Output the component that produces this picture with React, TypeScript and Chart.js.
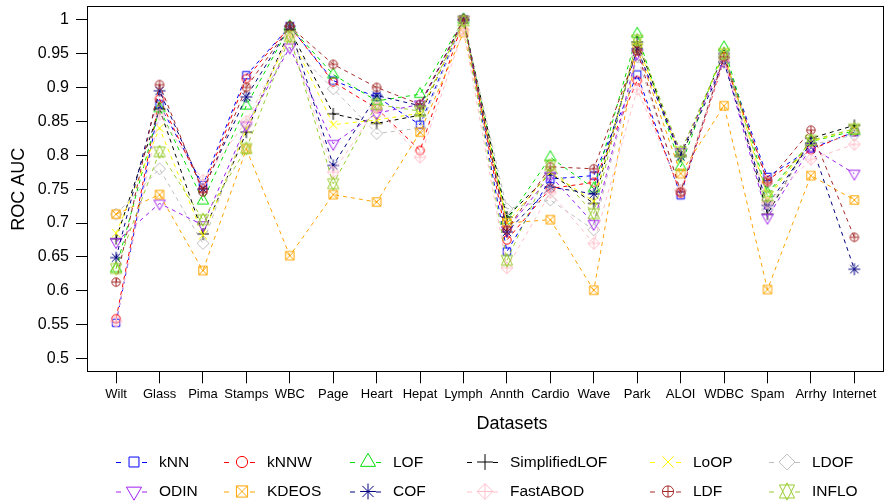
import React, { useEffect, useRef } from 'react';
import { Chart, registerables } from 'chart.js';

Chart.register(...registerables);

// ---------------- data ----------------
const categories = ['Wilt', 'Glass', 'Pima', 'Stamps', 'WBC', 'Page', 'Heart', 'Hepat', 'Lymph', 'Annth', 'Cardio', 'Wave', 'Park', 'ALOI', 'WDBC', 'Spam', 'Arrhy', 'Internet'];

const kNN = [0.553, 0.875, 0.756, 0.918, 0.990, 0.910, 0.886, 0.845, 1.000, 0.658, 0.765, 0.770, 0.919, 0.741, 0.947, 0.768, 0.810, 0.834];
const kNNW = [0.559, 0.883, 0.750, 0.913, 0.990, 0.908, 0.869, 0.807, 1.000, 0.675, 0.751, 0.760, 0.910, 0.744, 0.940, 0.763, 0.808, 0.835];
const LOF = [0.633, 0.869, 0.733, 0.873, 0.990, 0.919, 0.880, 0.890, 1.000, 0.704, 0.797, 0.751, 0.979, 0.783, 0.959, 0.744, 0.820, 0.836];
const SimplifiedLOF = [0.677, 0.868, 0.684, 0.834, 0.985, 0.861, 0.847, 0.859, 1.000, 0.709, 0.773, 0.729, 0.967, 0.800, 0.950, 0.713, 0.825, 0.844];
const LoOP = [0.685, 0.840, 0.682, 0.838, 0.978, 0.845, 0.852, 0.862, 0.998, 0.700, 0.775, 0.732, 0.965, 0.795, 0.952, 0.736, 0.820, 0.839];
const LDOF = [0.713, 0.780, 0.670, 0.845, 0.962, 0.898, 0.832, 0.840, 0.998, 0.721, 0.734, 0.690, 0.945, 0.748, 0.948, 0.720, 0.815, 0.830];
const ODIN = [0.672, 0.729, 0.697, 0.844, 0.959, 0.817, 0.862, 0.875, 1.000, 0.690, 0.770, 0.699, 0.950, 0.805, 0.940, 0.708, 0.812, 0.773];
const KDEOS = [0.713, 0.742, 0.630, 0.809, 0.652, 0.742, 0.731, 0.834, 0.981, 0.700, 0.705, 0.601, 0.958, 0.773, 0.873, 0.602, 0.770, 0.734];
const COF = [0.649, 0.895, 0.750, 0.886, 0.990, 0.785, 0.888, 0.873, 1.000, 0.687, 0.753, 0.743, 0.957, 0.798, 0.937, 0.726, 0.818, 0.632];
const FastABOD = [0.555, 0.860, 0.763, 0.850, 0.975, 0.775, 0.870, 0.797, 0.985, 0.634, 0.745, 0.670, 0.897, 0.748, 0.940, 0.730, 0.794, 0.816];
const LDF = [0.613, 0.904, 0.746, 0.900, 0.990, 0.934, 0.900, 0.875, 1.000, 0.690, 0.783, 0.780, 0.954, 0.746, 0.945, 0.760, 0.837, 0.679];
const INFLO = [0.633, 0.805, 0.705, 0.810, 0.975, 0.758, 0.875, 0.865, 0.998, 0.645, 0.785, 0.714, 0.970, 0.805, 0.950, 0.740, 0.822, 0.839];

const seriesNames = ['kNN', 'kNNW', 'LOF', 'SimplifiedLOF', 'LoOP', 'LDOF', 'ODIN', 'KDEOS', 'COF', 'FastABOD', 'LDF', 'INFLO'];
const seriesValues = [kNN, kNNW, LOF, SimplifiedLOF, LoOP, LDOF, ODIN, KDEOS, COF, FastABOD, LDF, INFLO];

const yTickValues = [0.5, 0.55, 0.6, 0.65, 0.7, 0.75, 0.8, 0.85, 0.9, 0.95, 1];
const yTickLabels = ['0.5', '0.55', '0.6', '0.65', '0.7', '0.75', '0.8', '0.85', '0.9', '0.95', '1'];

// ---------------- styles ----------------
const seriesColors = ['#0000FF', '#FF0000', '#00E000', '#000000', '#FFFF00', '#BEBEBE', '#A020F0', '#FFA500', '#000080', '#FFC0CB', '#A52A2A', '#9ACD32'];
const seriesPch = [0, 1, 2, 3, 4, 5, 6, 7, 8, 9, 10, 11];

const FONT = '"Liberation Sans", Arial, Helvetica, sans-serif';
const W = 889;
const H = 502;
const PLOT_LEFT = 87;
const PLOT_TOP = 5.4;
const PLOT_BOTTOM = 372.3;
const PLOT_R = 4.2;
const LEGEND_R = 5.6;
const legendMarkerX = [134, 242, 368, 485, 668, 787];
const legendRowY = [462, 491.5];

const TRC0 = Math.sqrt((4 * Math.PI) / (3 * Math.sqrt(3)));
const TRC1 = (TRC0 * Math.sqrt(3)) / 2;
const TRC2 = TRC0 / 2;
const SQRC = 0.88622692545;

function drawPch(ctx: CanvasRenderingContext2D, pch: number, x: number, y: number, R: number) {
  ctx.beginPath();
  const line = (x1: number, y1: number, x2: number, y2: number) => {
    ctx.moveTo(x1, y1);
    ctx.lineTo(x2, y2);
  };
  switch (pch) {
    case 0: {
      const s = R * SQRC;
      ctx.rect(x - s, y - s, 2 * s, 2 * s);
      break;
    }
    case 1:
      ctx.arc(x, y, R, 0, Math.PI * 2);
      break;
    case 2: {
      const r = TRC0 * R, yc = TRC2 * R, xc = TRC1 * R;
      ctx.moveTo(x, y - r);
      ctx.lineTo(x + xc, y + yc);
      ctx.lineTo(x - xc, y + yc);
      ctx.closePath();
      break;
    }
    case 3: {
      const xc = Math.SQRT2 * R;
      line(x - xc, y, x + xc, y);
      line(x, y - xc, x, y + xc);
      break;
    }
    case 4: {
      const xc = R;
      line(x - xc, y - xc, x + xc, y + xc);
      line(x - xc, y + xc, x + xc, y - xc);
      break;
    }
    case 5: {
      const xc = Math.SQRT2 * R;
      ctx.moveTo(x - xc, y);
      ctx.lineTo(x, y - xc);
      ctx.lineTo(x + xc, y);
      ctx.lineTo(x, y + xc);
      ctx.closePath();
      break;
    }
    case 6: {
      const r = TRC0 * R, yc = TRC2 * R, xc = TRC1 * R;
      ctx.moveTo(x, y + r);
      ctx.lineTo(x + xc, y - yc);
      ctx.lineTo(x - xc, y - yc);
      ctx.closePath();
      break;
    }
    case 7: {
      const xc = R;
      ctx.rect(x - xc, y - xc, 2 * xc, 2 * xc);
      line(x - xc, y - xc, x + xc, y + xc);
      line(x - xc, y + xc, x + xc, y - xc);
      break;
    }
    case 8: {
      const xc = R;
      line(x - xc, y - xc, x + xc, y + xc);
      line(x - xc, y + xc, x + xc, y - xc);
      const xc2 = Math.SQRT2 * R;
      line(x - xc2, y, x + xc2, y);
      line(x, y - xc2, x, y + xc2);
      break;
    }
    case 9: {
      const xc = Math.SQRT2 * R;
      line(x - xc, y, x + xc, y);
      line(x, y - xc, x, y + xc);
      ctx.moveTo(x - xc, y);
      ctx.lineTo(x, y - xc);
      ctx.lineTo(x + xc, y);
      ctx.lineTo(x, y + xc);
      ctx.closePath();
      break;
    }
    case 10: {
      ctx.arc(x, y, R, 0, Math.PI * 2);
      ctx.moveTo(x - R, y);
      ctx.lineTo(x + R, y);
      ctx.moveTo(x, y - R);
      ctx.lineTo(x, y + R);
      break;
    }
    case 11: {
      const r = TRC0 * R;
      const yc = 0.5 * (TRC2 * R + r);
      const xc = TRC1 * R;
      ctx.moveTo(x, y - r);
      ctx.lineTo(x + xc, y + yc);
      ctx.lineTo(x - xc, y + yc);
      ctx.closePath();
      ctx.moveTo(x, y + r);
      ctx.lineTo(x + xc, y - yc);
      ctx.lineTo(x - xc, y - yc);
      ctx.closePath();
      break;
    }
  }
  ctx.stroke();
}

function makeMarker(pch: number, color: string, R: number): HTMLCanvasElement {
  const half = Math.ceil(1.7 * R + 2);
  const c = document.createElement('canvas');
  c.width = half * 2;
  c.height = half * 2;
  const ctx = c.getContext('2d')!;
  ctx.strokeStyle = color;
  ctx.lineWidth = 1;
  drawPch(ctx, pch, half, half, R);
  return c;
}

const decorPlugin = {
  id: 'decor',
  afterDraw(chart: any) {
    const { ctx, chartArea: a } = chart;
    ctx.save();
    ctx.setLineDash([]);
    ctx.lineDashOffset = 0;
    ctx.strokeStyle = '#000';
    ctx.lineWidth = 1;
    ctx.strokeRect(Math.round(a.left) + 0.5, Math.round(a.top) + 0.5, Math.round(a.right - a.left), Math.round(a.bottom - a.top) - 1);

    ctx.fillStyle = '#000';
    ctx.font = `18px ${FONT}`;
    ctx.textAlign = 'center';
    ctx.textBaseline = 'middle';
    ctx.fillText('Datasets', 512, 424);
    ctx.save();
    ctx.translate(19, (a.top + a.bottom) / 2);
    ctx.rotate(-Math.PI / 2);
    ctx.fillText('ROC AUC', 0, 0);
    ctx.restore();

    // legend
    chart.data.datasets.forEach((ds: any, i: number) => {
      const col = i % 6;
      const row = Math.floor(i / 6);
      const mx = legendMarkerX[col];
      const my = legendRowY[row];
      ctx.strokeStyle = ds.borderColor;
      ctx.lineWidth = 1;
      ctx.setLineDash([]);
      ctx.beginPath();
      ctx.moveTo(mx - 18, my + 0.5);
      ctx.lineTo(mx - 13, my + 0.5);
      ctx.moveTo(mx + 8, my + 0.5);
      ctx.lineTo(mx + 13, my + 0.5);
      ctx.stroke();
      drawPch(ctx, seriesPch[i], mx, my, LEGEND_R);
      ctx.fillStyle = '#000';
      ctx.font = `15.5px ${FONT}`;
      ctx.textAlign = 'left';
      ctx.textBaseline = 'middle';
      ctx.fillText(ds.label, mx + 25, my + 0.5);
    });
    ctx.restore();
  },
};

export default function App() {
  const canvasRef = useRef<HTMLCanvasElement | null>(null);

  useEffect(() => {
    if (!canvasRef.current) return;
    Chart.defaults.font.family = FONT;
    const datasets = seriesNames.map((name, i) => ({
      label: name,
      data: seriesValues[i].map((v, j) => ({ x: j + 1, y: v })),
      borderColor: seriesColors[i],
      backgroundColor: 'transparent',
      borderWidth: 1,
      borderDash: [4, 4],
      pointStyle: makeMarker(seriesPch[i], seriesColors[i], PLOT_R),
      pointRadius: 5,
      fill: false,
      tension: 0,
      order: 12 - i,
    }));

    const chart = new Chart(canvasRef.current, {
      type: 'line',
      data: { datasets },
      options: {
        responsive: false,
        animation: false,
        events: [],
        layout: { padding: { left: 0, right: 0, top: PLOT_TOP, bottom: 0 } },
        plugins: { legend: { display: false }, tooltip: { enabled: false } },
        scales: {
          x: {
            type: 'linear',
            min: 0.33,
            max: 18.66,
            border: { display: false },
            grid: { drawOnChartArea: false, drawTicks: true, tickLength: 11, color: '#000', lineWidth: 1 },
            ticks: {
              autoSkip: false,
              maxRotation: 0,
              minRotation: 0,
              padding: 3,
              color: '#000',
              font: { size: 13, family: FONT },
              callback: (v: any) => categories[Math.round(Number(v)) - 1] ?? '',
            },
            afterBuildTicks: (s: any) => {
              s.ticks = categories.map((_, i) => ({ value: i + 1 }));
            },
            afterFit: (s: any) => {
              s.height = H - PLOT_BOTTOM;
              s.paddingLeft = 0;
              s.paddingRight = 0;
            },
          },
          y: {
            type: 'linear',
            min: 0.48,
            max: 1.02,
            border: { display: false },
            grid: { drawOnChartArea: false, drawTicks: true, tickLength: 11, color: '#000', lineWidth: 1 },
            ticks: {
              padding: 7,
              color: '#000',
              font: { size: 16, family: FONT },
              callback: (_v: any, idx: number) => yTickLabels[idx],
            },
            afterBuildTicks: (s: any) => {
              s.ticks = yTickValues.map((v) => ({ value: v }));
            },
            afterFit: (s: any) => {
              s.width = PLOT_LEFT;
              s.paddingTop = 0;
              s.paddingBottom = 0;
            },
          },
        },
      } as any,
      plugins: [decorPlugin],
    });
    return () => chart.destroy();
  }, []);

  return (
    <div style={{ position: 'fixed', left: 0, top: 0, width: W, height: H, background: '#fff' }}>
      <canvas ref={canvasRef} width={W} height={H} style={{ display: 'block', width: W, height: H }} />
    </div>
  );
}
